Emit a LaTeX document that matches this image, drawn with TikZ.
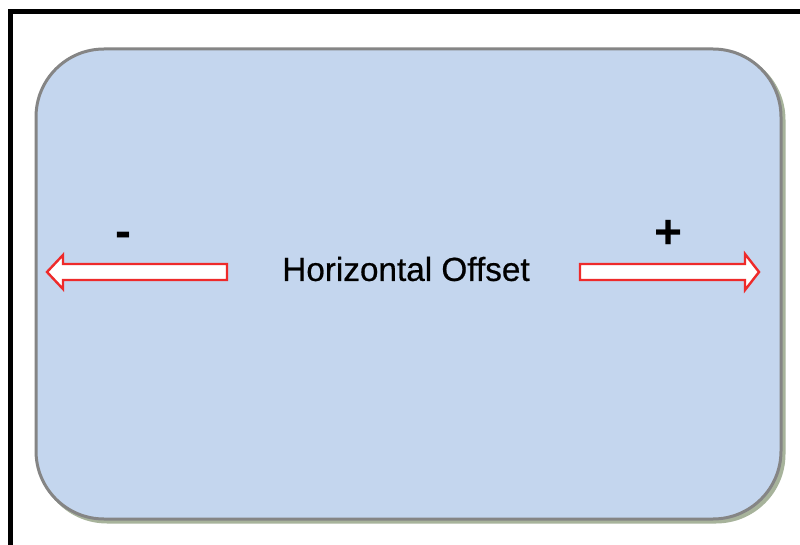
\documentclass[tikz,border=0pt]{standalone}
\usepackage{fontspec}
\setmainfont{Liberation Sans}
\newfontfamily\medsans[BoldFont={Liberation Sans}, BoldFeatures={FakeBold=0.6}]{Liberation Sans}
\begin{document}
\begin{tikzpicture}[x=1pt,y=-1pt,
  panel/.style={draw=panelgray, line width=3pt, fill=panelblue, rounded corners=68pt},
  shadowbox/.style={draw=shadowgreen, line width=3pt, fill=shadowgreen, rounded corners=68pt},
  redarrow/.style={draw=arrowred, line width=2.4pt, fill=white, line join=miter},
  label/.style={font=\medsans\bfseries\fontsize{33.3}{38}\selectfont, text=black, inner sep=0pt},
  sign/.style={font=\bfseries\fontsize{48}{52}\selectfont, text=black, inner sep=0pt}]
\definecolor{panelgray}{HTML}{858585}
\definecolor{panelblue}{HTML}{C4D6EE}
\definecolor{shadowgreen}{HTML}{A7B39B}
\definecolor{arrowred}{HTML}{EE2A2A}
\useasboundingbox (0,0) rectangle (800,545);
\fill[white] (0,0) rectangle (800,545);
% outer frame (runs off the right and bottom edges)
\draw[black, line width=5pt] (10.5,820) -- (10.5,12) -- (1000,12);
% shadow and panel
\draw[shadowbox] (39,52) rectangle (784,522);
\draw[panel] (36,49) rectangle (781,519);
% arrows
\draw[redarrow] (227,264) -- (63,264) -- (63,255) -- (47,272) -- (63,289) -- (63,280) -- (227,280) -- cycle;
\draw[redarrow] (580,264) -- (745,264) -- (745,254) -- (759,272) -- (745,290) -- (745,280) -- (580,280) -- cycle;
% texts
\node[label] (title) at (406,269) {Horizontal Offset};
\node[sign] (minus) at (123,240) {-};
\node[sign] (plus) at (669,234) {+};
\end{tikzpicture}
\end{document}
